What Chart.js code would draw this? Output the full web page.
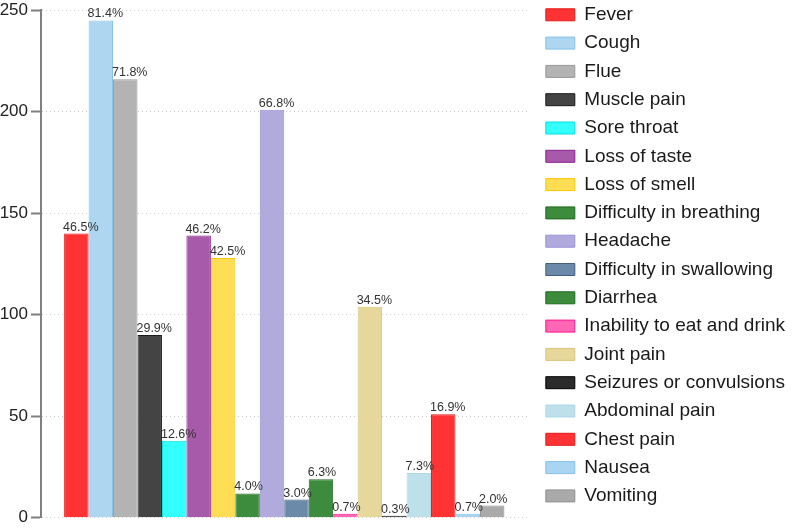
<!DOCTYPE html>
<html>
<head>
<meta charset="utf-8">
<script src="https://cdn.jsdelivr.net/npm/chart.js@4"></script>
<style>
  html, body { margin: 0; padding: 0; background: #fff; }
  #wrap { width: 797px; height: 528px; position: relative; }
</style>
</head>
<body>
<div id="wrap"><canvas id="chartsym"></canvas></div>
<script>
// symptoms (one dataset each so they all get a legend entry)
var symptoms = ['Fever', 'Cough', 'Flue', 'Muscle pain', 'Sore throat', 'Loss of taste',
    'Loss of smell', 'Difficulty in breathing', 'Headache', 'Difficulty in swallowing',
    'Diarrhea', 'Inability to eat and drink', 'Joint pain', 'Seizures or convulsions',
    'Abdominal pain', 'Chest pain', 'Nausea', 'Vomiting'];
var counts = [140, 245, 216, 90, 38, 139, 128, 12, 201, 9, 19, 2, 104, 1, 22, 51, 2, 6];
var percents = ['46.5%', '81.4%', '71.8%', '29.9%', '12.6%', '46.2%', '42.5%', '4.0%', '66.8%',
    '3.0%', '6.3%', '0.7%', '34.5%', '0.3%', '7.3%', '16.9%', '0.7%', '2.0%'];
var yTicks = [0, 50, 100, 150, 200, 250];

var fillColors = ['#FF3333', '#AED6F1', '#B3B3B3', '#444444', '#33FFFF', '#A85AAA',
    '#FFDD55', '#3D8B3D', '#B0AADD', '#6B89A8', '#3D8B3D', '#FF66B3', '#E6D79A',
    '#2B2B2B', '#BDE0EB', '#FF3333', '#A9D4F2', '#AAAAAA'];
var lineColors = ['#E31A1C', '#85C1E9', '#999999', '#1A1A1A', '#00E0E0', '#8B1E8E',
    '#F5C800', '#1F6A1F', '#9A90DA', '#3E5F80', '#1F6A1F', '#FF1493', '#D9C67A',
    '#000000', '#ADD8E6', '#E31A1C', '#85C1E9', '#909090'];

var datasets = [];
for (var i = 0; i < symptoms.length; i++) {
    datasets.push({
        label: symptoms[i],
        data: [counts[i]],
        backgroundColor: fillColors[i],
        borderColor: lineColors[i],
        borderWidth: 1
    });
}

/* percent labels above each bar */
var pctLabels = {
    id: 'pctLabels',
    afterDatasetsDraw: function (chart) {
        var ctx = chart.ctx;
        ctx.save();
        ctx.font = '12.5px "Liberation Sans", Arial, sans-serif';
        ctx.fillStyle = '#333';
        ctx.textAlign = 'left';
        ctx.textBaseline = 'alphabetic';
        chart.data.datasets.forEach(function (ds, i) {
            var bar = chart.getDatasetMeta(i).data[0];
            ctx.fillText(percents[i], bar.x - bar.width / 2 - 1, bar.y - 3);
        });
        ctx.restore();
    }
};

var ctx = document.getElementById('chartsym');
var symChart = new Chart(ctx, {
    type: 'bar',
    data: {
        labels: [''],
        datasets: datasets
    },
    options: {
        responsive: true,
        maintainAspectRatio: false,
        animation: false,
        layout: { padding: { top: -4, right: 2, bottom: 0, left: 0 } },
        datasets: { bar: { categoryPercentage: 0.905, barPercentage: 1.0 } },
        scales: {
            x: { display: false },
            y: {
                min: 0,
                max: 250,
                afterBuildTicks: function (s) {
                    s.ticks = yTicks.map(function (v) { return { value: v }; });
                },
                afterFit: function (s) { s.width = 41; },
                border: { display: true, color: '#808080', width: 2, dash: [1, 3] },
                grid: {
                    color: '#c8c8c8',
                    lineWidth: 1,
                    tickLength: 10,
                    tickColor: '#808080',
                    tickWidth: 2,
                    tickBorderDash: []
                },
                ticks: {
                    padding: 3,
                    color: '#222',
                    font: { family: '"Liberation Sans", Arial, sans-serif', size: 17, lineHeight: 0.85 }
                }
            },
            // empty spacer between plot and legend
            y2: {
                position: 'right',
                display: true,
                border: { display: false },
                grid: { display: false, drawTicks: false },
                ticks: { display: false },
                afterFit: function (s) { s.width = 9; }
            }
        },
        plugins: {
            legend: {
                position: 'right',
                align: 'start',
                maxWidth: 262,
                labels: {
                    boxWidth: 29,
                    boxHeight: 12,
                    padding: 9.3,
                    color: '#1a1a1a',
                    font: { family: '"Liberation Sans", Arial, sans-serif', size: 19 }
                }
            },
            tooltip: { enabled: false }
        }
    },
    plugins: [pctLabels]
});
</script>
</body>
</html>
